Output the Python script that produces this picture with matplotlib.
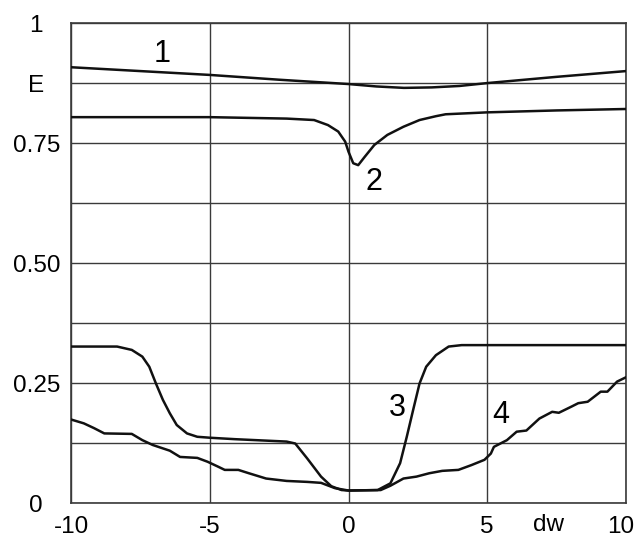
import matplotlib
matplotlib.use('Agg')
import matplotlib.pyplot as plt
import matplotlib.transforms as mtransforms

plt.rcParams['font.family'] = ['Liberation Sans', 'DejaVu Sans']

# curve 1
x1 = [-10, -7.5, -5, -2.5, 0, 1, 2, 3, 4, 5, 7.5, 10]
y1 = [0.908, 0.900, 0.892, 0.882, 0.873, 0.868, 0.865, 0.866, 0.869, 0.875, 0.888, 0.900]

# curve 2
x2 = [-10, -5, -2.23, -1.24, -0.74, -0.37, -0.12, 0, 0.17, 0.35, 0.58, 0.93, 1.4, 1.98, 2.56, 3.15, 3.5,
      5, 7.5, 10]
y2 = [0.804, 0.804, 0.801, 0.798, 0.7875, 0.774, 0.753, 0.732, 0.708, 0.704, 0.721, 0.746, 0.767, 0.784, 0.798,
      0.806, 0.81, 0.814, 0.818, 0.821]

# curve 3
x3 = [-10, -8.34, -7.81, -7.43, -7.18, -6.94, -6.69, -6.44, -6.19, -5.82, -5.45, -4.99, -4.09, -2.23, -1.92,
      -1.49, -0.99, -0.62, -0.25, 0, 1.05, 1.51, 1.86, 2.1, 2.33, 2.56, 2.8, 3.15, 3.61, 4.08, 10]
y3 = [0.326, 0.326, 0.319, 0.305, 0.284, 0.249, 0.215, 0.187, 0.1625, 0.145, 0.138, 0.136, 0.133, 0.128, 0.124,
      0.093, 0.055, 0.035, 0.027, 0.026, 0.027, 0.041, 0.083, 0.138, 0.194, 0.249, 0.284, 0.308, 0.326, 0.329, 0.329]

# curve 4
x4 = [-10, -9.54, -9.17, -8.8, -7.81, -7.43, -7.06, -6.44, -6.07, -5.45, -5.08, -4.71, -4.46, -3.97, -3.59,
      -2.97, -2.23, -1.49, -0.99, -0.49, 0, 1.16, 1.51, 1.98, 2.45, 2.91, 3.38, 3.96, 4.43, 4.9, 5.13, 5.24,
      5.71, 6.06, 6.41, 6.88, 7.34, 7.58, 8.04, 8.28, 8.62, 9.09, 9.33, 9.68, 10]
y4 = [0.174, 0.166, 0.156, 0.145, 0.144, 0.131, 0.121, 0.109, 0.096, 0.094, 0.086, 0.076, 0.069, 0.069, 0.062,
      0.051, 0.046, 0.044, 0.042, 0.031, 0.026, 0.027, 0.036, 0.051, 0.055, 0.062, 0.067, 0.069, 0.079, 0.09,
      0.103, 0.117, 0.131, 0.1486, 0.151, 0.176, 0.19, 0.188, 0.201, 0.208, 0.211, 0.232, 0.232, 0.253, 0.262]

xticks = [-10, -5, 0, 5, 10]
yticks = [0, 0.125, 0.25, 0.375, 0.5, 0.625, 0.75, 0.875, 1]
ylabels = ['0', '', '0.25', '', '0.50', '', '0.75', 'E', '1']

fig = plt.figure(figsize=(6.37, 5.37), dpi=100)
ax = fig.add_axes([0.1115, 0.0633, 0.8712, 0.8937])

for xs, ys in [(x1, y1), (x2, y2), (x3, y3), (x4, y4)]:
    ax.plot(xs, ys, color='#111111', linewidth=1.8, zorder=3, solid_joinstyle='round')

ax.set_xlim(-10, 10)
ax.set_ylim(0, 1)
ax.set_xticks(xticks)
ax.set_xticklabels([str(v) for v in xticks], fontsize=17.5)
ax.set_yticks(yticks)
ax.set_yticklabels(ylabels, fontsize=17.5)
for lbl in ax.get_yticklabels():
    lbl.set_horizontalalignment('center')
ax.tick_params(axis='y', length=0, pad=25)
ax.tick_params(axis='x', length=0, pad=9)
# keep the last "10" inside the figure
last = ax.get_xticklabels()[-1]
last.set_transform(last.get_transform() + mtransforms.ScaledTranslation(-5 / 100, 0, fig.dpi_scale_trans))
ax.grid(True, color='#3a3a3a', linewidth=1.0)
for sp in ax.spines.values():
    sp.set_color('#3a3a3a')
    sp.set_linewidth(1.2)

# curve labels
ax.text(-6.7, 0.935, '1', fontsize=22, ha='center', va='center')
ax.text(0.9, 0.668, '2', fontsize=22, ha='center', va='center')
ax.text(1.75, 0.198, '3', fontsize=22, ha='center', va='center')
ax.text(5.5, 0.183, '4', fontsize=22, ha='center', va='center')

trans = mtransforms.blended_transform_factory(ax.transData, ax.transAxes)
ax.text(7.2, -0.045, 'dw', fontsize=17.5, ha='center', va='center', transform=trans)

fig.savefig('out.png', dpi=100)
